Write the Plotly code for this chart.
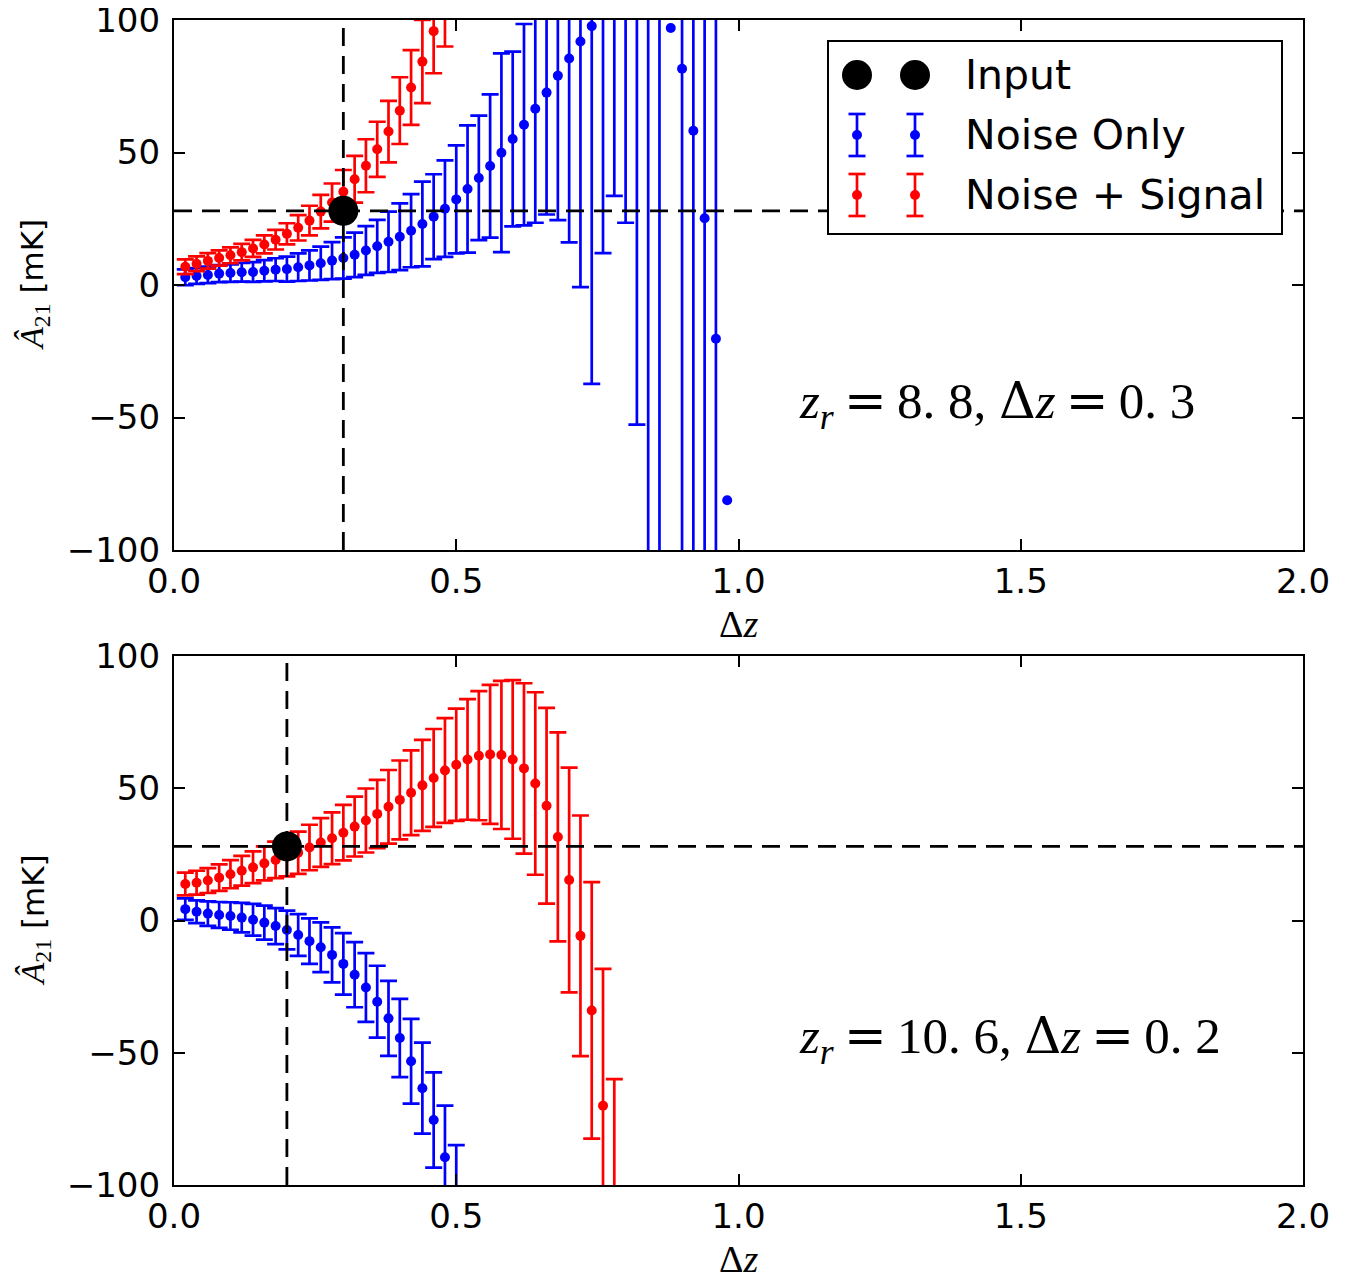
import plotly.graph_objects as go

# ---------------- data ----------------
DZ = [0.02, 0.04, 0.06, 0.08, 0.10, 0.12, 0.14, 0.16, 0.18, 0.20,
      0.22, 0.24, 0.26, 0.28, 0.30, 0.32, 0.34, 0.36, 0.38, 0.40,
      0.42, 0.44, 0.46, 0.48, 0.50, 0.52, 0.54, 0.56, 0.58, 0.60,
      0.62, 0.64, 0.66, 0.68, 0.70, 0.72, 0.74, 0.76, 0.78, 0.80,
      0.82, 0.84, 0.86, 0.88, 0.90, 0.92, 0.94, 0.96, 0.98]

# top panel (z_r = 8.8, input dz = 0.3)
top_noise = [2.9, 3.4, 3.8, 4.3, 4.5, 4.8, 4.9, 5.4, 5.8, 6.0,
             6.7, 7.4, 8.2, 9.2, 10.2, 11.4, 13.0, 14.6, 16.3, 18.2,
             20.5, 23.0, 25.8, 28.8, 32.3, 36.2, 40.4, 44.9, 49.9, 55.1,
             60.5, 66.5, 72.6, 79.0, 85.5, 91.9, 97.7, 103, 107, 109,
             109, 107, 103, 97.0, 81.6, 58.2, 25.2, -20.3, -81.2]
top_noise_err = [3.0, 3.0, 3.1, 3.2, 3.3, 3.5, 3.7, 4.0, 4.3, 4.7,
                 5.2, 5.7, 6.3, 7.0, 7.8, 8.4, 9.2, 10.0, 11.4, 12.6,
                 13.8, 16.0, 16.0, 18.2, 20.4, 24.0, 23.5, 27.0, 37.5, 33.0,
                 38.0, 43.0, 46.0, 54.5, 69.4, 92.7, 135.0, 91.0, 73.4, 85.5,
                 161.7, 250, 250, None, 250, 250, 250, 250, None]
top_signal = [6.9, 8.0, 9.1, 10.2, 11.2, 12.4, 13.8, 15.3, 17.1, 19.3,
              21.6, 24.3, 27.7, 31.1, 35.2, 39.9, 45.0, 51.2, 57.9, 65.8,
              74.5, 84.3, 95.8, 107]
top_signal_err = [2.8, 2.8, 2.9, 2.9, 3.0, 3.1, 3.2, 3.4, 3.7, 4.0,
                  4.8, 5.6, 6.3, 7.2, 8.2, 8.8, 10.0, 10.4, 11.6, 12.6,
                  14.1, 15.7, 15.9, 17.0]

# bottom panel (z_r = 10.6, input dz = 0.2)
bot_noise = [4.3, 3.3, 2.6, 2.1, 1.7, 1.1, 0.3, -0.8, -2.1, -3.6,
             -5.5, -7.8, -10.1, -13.0, -16.4, -20.5, -25.3, -30.7, -37.0, -44.4,
             -53.2, -63.4, -75.4, -89.5, -105.4]
bot_noise_err = [4.1, 4.3, 4.6, 4.9, 5.2, 5.6, 6.0, 6.4, 6.8, 7.3,
                 7.9, 8.6, 9.4, 10.4, 11.6, 12.3, 13.0, 13.6, 14.2, 14.8,
                 16.0, 17.2, 18.0, 19.5, 20.5]
bot_signal = [13.8, 14.3, 15.1, 16.2, 17.5, 18.8, 20.1, 21.6, 22.9, 24.1,
              25.6, 27.6, 29.5, 31.1, 33.2, 35.5, 37.8, 40.3, 43.0, 45.6,
              48.3, 51.1, 53.9, 56.7, 58.9, 60.9, 62.3, 62.8, 62.6, 60.9,
              57.5, 51.8, 43.4, 31.6, 15.3, -5.8, -34.0, -70.0, -115.0]
bot_signal_err = [4.3, 4.5, 4.7, 5.0, 5.3, 5.6, 6.0, 6.4, 6.9, 7.4,
                  8.0, 8.6, 9.2, 9.8, 10.5, 11.3, 12.1, 12.9, 13.9, 14.9,
                  16.0, 17.2, 18.5, 19.8, 21.2, 22.8, 24.4, 26.3, 28.0, 30.0,
                  32.2, 34.5, 37.0, 39.5, 42.5, 45.5, 48.5, 51.7, 55.0]

inputs = [  # (z_r, input dz, input amplitude)
    (8.8, 0.3, 28.0),
    (10.6, 0.2, 28.0),
]

x_ticks = [0.0, 0.5, 1.0, 1.5, 2.0]
y_ticks = [-100, -50, 0, 50, 100]
legend_labels = ["Input", "Noise Only", "Noise + Signal"]

BLUE = "#0000ff"
RED = "#ff0000"

# ---------------- figure ----------------
# (the html page body has an 8 px margin, compensated here)
W, H = 1346, 1279
PLOT_W, PLOT_H = 1129, 1165
ML, MT = 166, 12
MR = W - ML - PLOT_W
MB = H - MT - PLOT_H
fig = go.Figure()

TOP_DOM = [1 - 530 / PLOT_H, 1.0]
BOT_DOM = [0.0, 529 / PLOT_H]


def add_errseries(xs, ys, errs, color, xa, ya):
    xe = [x for x, e in zip(xs, errs) if e is not None]
    ye = [y for y, e in zip(ys, errs) if e is not None]
    ee = [e for e in errs if e is not None]
    fig.add_trace(go.Scatter(
        x=xe, y=ye, mode="markers", xaxis=xa, yaxis=ya, showlegend=False,
        marker=dict(color=color, size=10),
        error_y=dict(type="data", array=ee, visible=True, color=color,
                     thickness=2.7, width=8.5)))
    xn = [x for x, e in zip(xs, errs) if e is None]
    yn = [y for y, e in zip(ys, errs) if e is None]
    if xn:
        fig.add_trace(go.Scatter(
            x=xn, y=yn, mode="markers", xaxis=xa, yaxis=ya, showlegend=False,
            marker=dict(color=color, size=10)))


def fmt(v):
    # mathtext-like spacing after the decimal point
    return f"{v:.1f}".replace(".", ". ")


EQ = '\u2009<span style="font-family:DejaVu Serif">=</span>\u2009'
DELTA = '<span style="font-family:DejaVu Serif">Δ</span>'

panels = [
    ("x", "y", top_noise, top_noise_err, top_signal, top_signal_err, inputs[0]),
    ("x2", "y2", bot_noise, bot_noise_err, bot_signal, bot_signal_err, inputs[1]),
]

for xa, ya, nv, ne, sv, se, (zr, dz0, a0) in panels:
    add_errseries(DZ[:len(nv)], nv, ne, BLUE, xa, ya)
    add_errseries(DZ[:len(sv)], sv, se, RED, xa, ya)
    fig.add_trace(go.Scatter(
        x=[dz0], y=[a0], mode="markers", xaxis=xa, yaxis=ya, showlegend=False,
        marker=dict(color="black", size=30)))
    axs = "" if xa == "x" else "2"
    # dashed reference lines
    fig.add_shape(type="line", xref=f"x{axs} domain", yref=f"y{axs}",
                  x0=0, x1=1, y0=a0, y1=a0, layer="above",
                  line=dict(color="black", width=2.8, dash="18px,10px"))
    fig.add_shape(type="line", xref=f"x{axs}", yref=f"y{axs} domain",
                  x0=dz0, x1=dz0, y0=0, y1=1, layer="above",
                  line=dict(color="black", width=2.8, dash="18px,10px"))
    # panel label
    fig.add_annotation(
        xref=f"x{axs} domain", yref=f"y{axs} domain", x=(797 - 174) / PLOT_W, y=0.276,
        xanchor="left", yanchor="middle", showarrow=False,
        text=(f"<i>z</i><sub><i>r</i></sub>{EQ}{fmt(zr)}, "
              f"{DELTA}<i>z</i>{EQ}{fmt(dz0)}"),
        font=dict(family="Liberation Serif", size=51, color="black"))
    # axis titles
    fig.add_annotation(
        xref=f"x{axs} domain", yref=f"y{axs} domain", x=0.5, y=0,
        yshift=-74, xanchor="center", yanchor="middle", showarrow=False,
        text="Δ<i>z</i>",
        font=dict(family="Liberation Serif", size=38, color="black"))
    fig.add_annotation(
        xref=f"x{axs} domain", yref=f"y{axs} domain", x=0, y=0.5,
        xshift=-140, xanchor="center", yanchor="middle", showarrow=False,
        textangle=-90,
        text='<span style="font-family:Liberation Serif;font-size:34px"><i>Â</i><sub>21</sub></span> [mK]',
        font=dict(family="DejaVu Sans", size=31, color="black"))

# ---------------- custom legend (top panel) ----------------
def dx(px):
    return (px - 174) / PLOT_W


def dy(py):
    return (550 - py) / 530


fig.add_shape(type="rect", xref="x domain", yref="y domain",
              x0=dx(828), x1=dx(1282), y0=dy(41), y1=dy(234),
              line=dict(color="black", width=2), fillcolor="white", layer="above")
rows = [75, 135, 195]
cols = [857, 915]
for cx in cols:
    fig.add_shape(type="circle", xref="x domain", yref="y domain",
                  x0=dx(cx - 15), x1=dx(cx + 15), y0=dy(rows[0] - 15), y1=dy(rows[0] + 15),
                  fillcolor="black", line=dict(width=0), layer="above")
    for ry, col in ((rows[1], BLUE), (rows[2], RED)):
        fig.add_shape(type="line", xref="x domain", yref="y domain",
                      x0=dx(cx), x1=dx(cx), y0=dy(ry - 21), y1=dy(ry + 21),
                      line=dict(color=col, width=2.7), layer="above")
        for cy in (ry - 21, ry + 21):
            fig.add_shape(type="line", xref="x domain", yref="y domain",
                          x0=dx(cx - 8.5), x1=dx(cx + 8.5), y0=dy(cy), y1=dy(cy),
                          line=dict(color=col, width=2.7), layer="above")
        fig.add_shape(type="circle", xref="x domain", yref="y domain",
                      x0=dx(cx - 5), x1=dx(cx + 5), y0=dy(ry - 5), y1=dy(ry + 5),
                      fillcolor=col, line=dict(width=0), layer="above")
for ry, lab in zip(rows, legend_labels):
    fig.add_annotation(xref="x domain", yref="y domain", x=dx(963), y=dy(ry),
                       xanchor="left", yanchor="middle", showarrow=False, text=lab,
                       font=dict(family="DejaVu Sans", size=41, color="black"))

# ---------------- axes ----------------
axis_common = dict(showline=True, linecolor="black", linewidth=2.2, mirror="ticks",
                   ticks="inside", ticklen=11, tickwidth=1.6, tickcolor="black",
                   showgrid=False, zeroline=False, automargin=False,
                   ticklabeloverflow="allow",
                   tickfont=dict(family="DejaVu Sans", size=34, color="black"))
xaxis_cfg = dict(range=[0, 2], tickvals=x_ticks, tickformat=".1f",
                 ticklabelstandoff=0, **axis_common)
yaxis_cfg = dict(range=[-100, 100], tickvals=y_ticks, ticklabelstandoff=5, **axis_common)

fig.update_layout(
    width=W, height=H, margin=dict(l=ML, r=MR, t=MT, b=MB, autoexpand=False),
    paper_bgcolor="white", plot_bgcolor="white", showlegend=False,
    xaxis=dict(domain=[0, 1], anchor="y", **xaxis_cfg),
    yaxis=dict(domain=TOP_DOM, anchor="x", **yaxis_cfg),
    xaxis2=dict(domain=[0, 1], anchor="y2", **xaxis_cfg),
    yaxis2=dict(domain=BOT_DOM, anchor="x2", **yaxis_cfg),
)

fig.write_html("out.html")
